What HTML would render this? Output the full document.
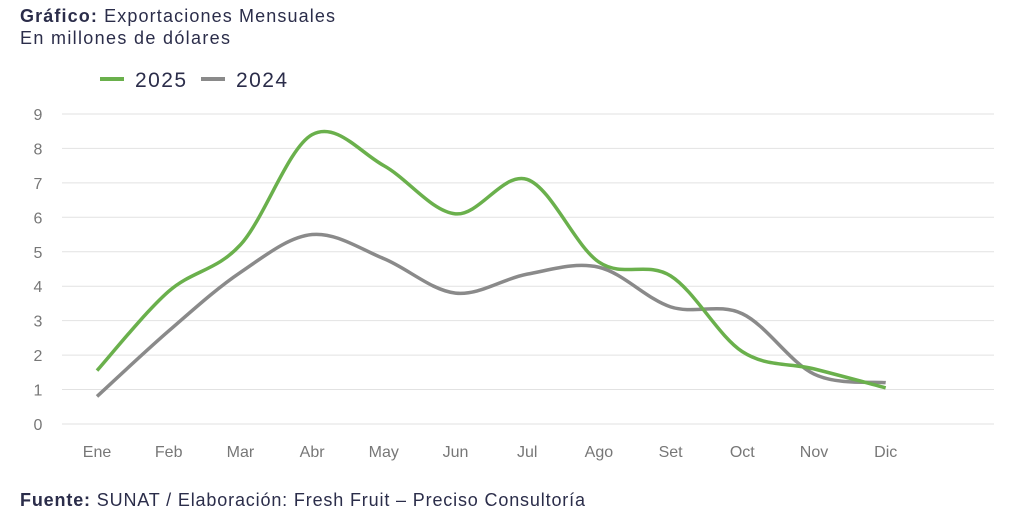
<!DOCTYPE html>
<html><head><meta charset="utf-8"><style>
body{margin:0;background:#fff;width:1024px;height:516px;overflow:hidden;font-family:"Liberation Sans",sans-serif;}
svg{position:absolute;left:0;top:0}
</style></head><body>
<svg id="s" width="1024" height="516" xmlns="http://www.w3.org/2000/svg">
<text x="20" y="22" font-size="18" fill="#2b2d4a" textLength="315" lengthAdjust="spacing"><tspan font-weight="bold">Gráfico:</tspan> Exportaciones Mensuales</text>
<text x="20" y="44" font-size="18" fill="#2b2d4a" textLength="210" lengthAdjust="spacing">En millones de dólares</text>
<line x1="100" y1="79" x2="124" y2="79" stroke="#6ab04c" stroke-width="4"/>
<text x="135" y="87" font-size="21" fill="#2b2d4a" textLength="51">2025</text>
<line x1="201" y1="79" x2="225" y2="79" stroke="#8a8a8a" stroke-width="4"/>
<text x="236" y="87" font-size="21" fill="#2b2d4a" textLength="51">2024</text>
<g id="grid"></g>
<path id="p24" fill="none" stroke="#8a8a8a" stroke-width="3.5"/>
<path id="p25" fill="none" stroke="#6ab04c" stroke-width="3.5"/>
<text x="20" y="506" font-size="18" fill="#2b2d4a" textLength="565" lengthAdjust="spacing"><tspan font-weight="bold">Fuente:</tspan> SUNAT / Elaboración: Fresh Fruit – Preciso Consultoría</text>
</svg>
<script>
var g=document.getElementById('grid'),h='';
function Y(v){return 424-v*34.45;}
for(var i=0;i<=9;i++){var y=Y(i);h+='<line x1="62" x2="994" y1="'+y+'" y2="'+y+'" stroke="#e2e2e2" stroke-width="1"/>';h+='<text x="38" y="'+(y+6)+'" font-size="16" text-anchor="middle" fill="#777">'+i+'</text>';}
var m=['Ene','Feb','Mar','Abr','May','Jun','Jul','Ago','Set','Oct','Nov','Dic'];
function X(i){return 97+i*71.7;}
for(var i=0;i<12;i++)h+='<text x="'+X(i)+'" y="457" font-size="16" text-anchor="middle" fill="#777">'+m[i]+'</text>';
g.innerHTML=h;
function path(d){var p=d.map(function(v,i){return [X(i),Y(v)]});var s='M'+p[0][0]+','+p[0][1];
for(var i=0;i<p.length-1;i++){var p0=p[i-1]||p[i],p1=p[i],p2=p[i+1],p3=p[i+2]||p2;var t=6;
s+=' C'+(p1[0]+(p2[0]-p0[0])/t)+','+(p1[1]+(p2[1]-p0[1])/t)+' '+(p2[0]-(p3[0]-p1[0])/t)+','+(p2[1]-(p3[1]-p1[1])/t)+' '+p2[0]+','+p2[1];}return s;}
document.getElementById('p25').setAttribute('d',path([1.55,3.85,5.2,8.4,7.5,6.1,7.1,4.7,4.3,2.1,1.6,1.05]));
document.getElementById('p24').setAttribute('d',path([0.8,2.7,4.4,5.5,4.8,3.8,4.35,4.55,3.4,3.2,1.45,1.2]));
</script>
</body></html>
